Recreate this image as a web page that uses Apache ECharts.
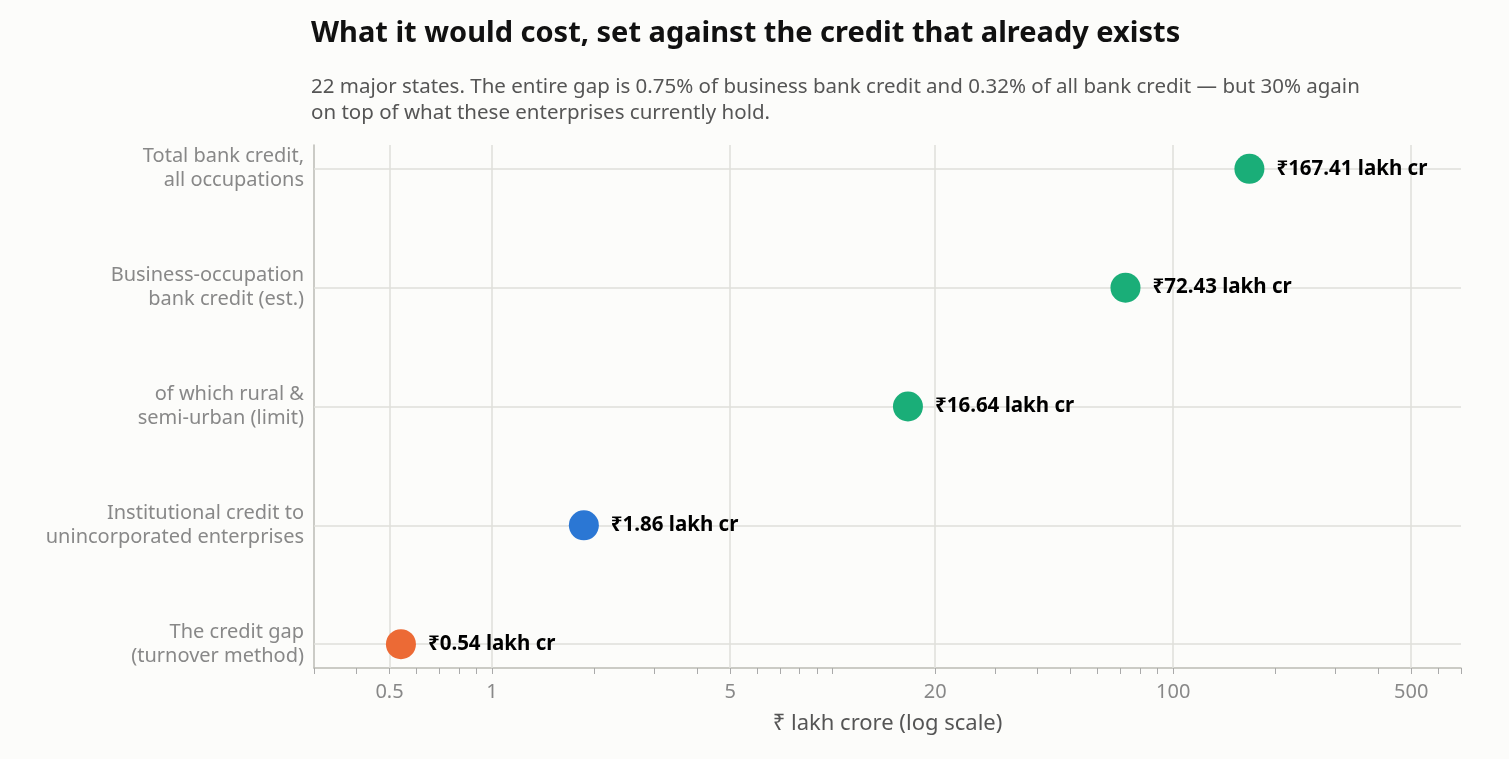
<!DOCTYPE html>
<html>
<head>
<meta charset="utf-8">
<script src="https://cdn.jsdelivr.net/npm/echarts@6/dist/echarts.min.js"></script>
</head>
<body style="margin:0;background:#fcfcfa">
<div id="main" style="width:1509px;height:759px;"></div>
<script>
var categories = ['The credit gap\n(turnover method)', 'Institutional credit to\nunincorporated enterprises',
  'of which rural &\nsemi-urban (limit)', 'Business-occupation\nbank credit (est.)', 'Total bank credit,\nall occupations'];
var values = [0.54, 1.86, 16.64, 72.43, 167.41];
var colors = ['#ec6a35', '#2b77d4', '#1aae78', '#1aae78', '#1aae78'];
var xLabels = [0.5, 1, 5, 20, 100, 500];
var minorTicks = [0.3,0.4,0.5,0.6,0.7,0.8,0.9,1,2,3,4,5,6,7,8,9,10,20,30,40,50,60,70,80,90,100,200,300,400,500,600,700];

var font = '"Noto Sans", sans-serif';
var grid = '#dfdfda';
var chart = echarts.init(document.getElementById('main'));
chart.setOption({
  backgroundColor: '#fcfcfa',
  textStyle: { fontFamily: font },
  title: {
    text: 'What it would cost, set against the credit that already exists',
    subtext: '22 major states. The entire gap is 0.75% of business bank credit and 0.32% of all bank credit — but 30% again\non top of what these enterprises currently hold.',
    left: 306, top: 14, itemGap: 26,
    textStyle: { fontSize: 29, fontWeight: 'bold', color: '#111', fontFamily: font },
    subtextStyle: { fontSize: 20.5, color: '#555', lineHeight: 26, fontFamily: font }
  },
  grid: { left: 314, right: 48, top: 145, bottom: 91 },
  xAxis: {
    type: 'log', logBase: 10, min: 0.3, max: 700,
    name: '₹ lakh crore (log scale)', nameLocation: 'middle', nameGap: 45,
    nameTextStyle: { fontSize: 22, color: '#555' },
    axisLine: { onZero: false, lineStyle: { color: '#bbbbb4', width: 1.5 } },
    axisTick: { show: true, customValues: minorTicks, length: 6, lineStyle: { color: '#aaa' } },
    axisLabel: { customValues: xLabels, fontSize: 20, color: '#888', margin: 14,
      formatter: function (v) { return String(+v.toPrecision(3)); } },
    splitLine: { show: false }
  },
  yAxis: {
    type: 'value', min: -0.2, max: 4.2,
    axisLine: { show: true, onZero: false, lineStyle: { color: '#bbbbb4', width: 1.5 } },
    axisTick: { show: false },
    splitLine: { show: false },
    axisLabel: { customValues: [0, 1, 2, 3, 4], fontSize: 20, color: '#888', lineHeight: 24, margin: 10,
      formatter: function (v) { return categories[Math.round(v)] || ''; } }
  },
  series: [{
    type: 'scatter',
    symbolSize: 30,
    z: 5,
    itemStyle: { opacity: 1 },
    data: values.map(function (v, i) {
      return { value: [v, i], itemStyle: { color: colors[i], opacity: 1 } };
    }),
    label: {
      show: true, position: 'right', distance: 12,
      fontSize: 20.5, fontWeight: 'bold', color: '#000',
      formatter: function (p) { return '₹' + p.value[0].toFixed(2) + ' lakh cr'; }
    },
    markLine: {
      silent: true, symbol: 'none', animation: false,
      label: { show: false },
      lineStyle: { color: grid, type: 'solid', width: 1.5 },
      data: xLabels.map(function (v) { return { xAxis: v }; })
        .concat([0, 1, 2, 3, 4].map(function (v) { return { yAxis: v }; }))
    }
  }]
});
</script>
</body>
</html>
